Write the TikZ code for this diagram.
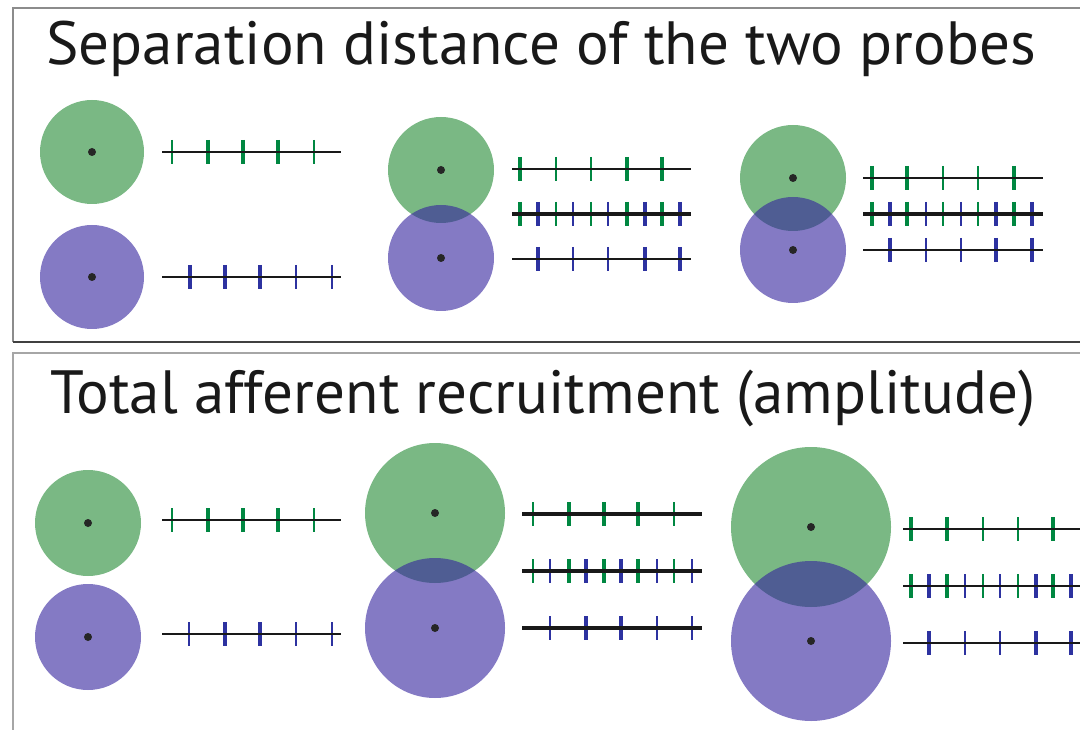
\documentclass[tikz,border=0pt]{standalone}
\usepackage{fontspec}
\setmainfont{PT Sans}
\definecolor{gbase}{RGB}{33,137,50}
\definecolor{pbase}{RGB}{50,33,157}
\definecolor{gtk}{RGB}{0,135,65}
\definecolor{btk}{RGB}{45,50,160}
\newcommand\tkrow[4]{\foreach \xx in {#4} {\draw[#1,line width=#2] (\xx,#3-12) -- (\xx,#3+12);}}
\tikzset{
  titletext/.style={anchor=base west,inner sep=0pt,font=\fontsize{45.8}{55}\selectfont,text=black!90},
  gcirc/.style={fill=gbase,fill opacity=0.6},
  pcirc/.style={fill=pbase,fill opacity=0.6},
  dotc/.style={fill=black!85},
  baseline/.style={draw=black!90,line cap=butt},
}
\begin{document}
\begin{tikzpicture}[x=0.75pt,y=-0.75pt]
\useasboundingbox (0,0) rectangle (1080,730);
% frames
\draw[black!45,line width=1.5pt] (1095,8) -- (13,8) -- (13,342);
\draw[black!75,line width=1.5pt] (13,342) -- (1095,342);
\draw[black!35,line width=1.5pt] (1095,353) -- (13,353) -- (13,745);
% titles
\node[titletext] (t1) at (46,65) {Separation distance of the two probes};
\node[titletext] (t2) at (50,413) {Total afferent recruitment (amplitude)};

% ---------- top group 1
\fill[gcirc] (92,152) circle[radius=39pt];
\fill[pcirc] (92,277) circle[radius=39pt];
\fill[dotc] (92,152) circle[radius=3pt];
\fill[dotc] (92,277) circle[radius=3pt];
\tkrow{gtk}{1.5pt}{152}{172,314}
\tkrow{gtk}{3.5pt}{152}{208,243,278}
\draw[baseline,line width=1.5pt] (162,152) -- (341,152);
\tkrow{btk}{3.5pt}{277}{190,225,260}
\tkrow{btk}{1.5pt}{277}{296,332}
\draw[baseline,line width=1.5pt] (162,277) -- (341,277);

% ---------- top group 2
\fill[gcirc] (441,170) circle[radius=39.75pt];
\fill[pcirc] (441,258) circle[radius=39.75pt];
\fill[dotc] (441,170) circle[radius=3pt];
\fill[dotc] (441,258) circle[radius=3pt];
\tkrow{gtk}{3.5pt}{169}{520,627,662}
\tkrow{gtk}{1.5pt}{169}{556,591}
\draw[baseline,line width=1.5pt] (512,169) -- (691,169);
\tkrow{gtk}{3.5pt}{214}{520,627,662}
\tkrow{gtk}{1.5pt}{214}{556,591}
\tkrow{btk}{3.5pt}{214}{538,645,680}
\tkrow{btk}{1.5pt}{214}{573,608}
\draw[baseline,line width=3pt] (512,214) -- (691,214);
\tkrow{btk}{3.5pt}{259}{538,645,680}
\tkrow{btk}{1.5pt}{259}{573,608}
\draw[baseline,line width=1.5pt] (512,259) -- (691,259);

% ---------- top group 3
\fill[gcirc] (793,178) circle[radius=39.75pt];
\fill[pcirc] (793,250) circle[radius=39.75pt];
\fill[dotc] (793,178) circle[radius=3pt];
\fill[dotc] (793,250) circle[radius=3pt];
\tkrow{gtk}{3.5pt}{178}{872,907,1014}
\tkrow{gtk}{1.5pt}{178}{943,978}
\draw[baseline,line width=1.5pt] (863,178) -- (1043,178);
\tkrow{gtk}{3.5pt}{214}{872,907,1014}
\tkrow{gtk}{1.5pt}{214}{943,978}
\tkrow{btk}{3.5pt}{214}{890,996,1032}
\tkrow{btk}{1.5pt}{214}{926,961}
\draw[baseline,line width=3pt] (863,214) -- (1043,214);
\tkrow{btk}{3.5pt}{250}{890,996,1032}
\tkrow{btk}{1.5pt}{250}{926,961}
\draw[baseline,line width=1.5pt] (863,250) -- (1043,250);

% ---------- bottom group 1
\fill[gcirc] (88,523) circle[radius=39.75pt];
\fill[pcirc] (88,637) circle[radius=39.75pt];
\fill[dotc] (88,523) circle[radius=3pt];
\fill[dotc] (88,637) circle[radius=3pt];
\tkrow{gtk}{1.5pt}{520}{172,314}
\tkrow{gtk}{3.5pt}{520}{208,243,278}
\draw[baseline,line width=1.5pt] (162,520) -- (341,520);
\tkrow{btk}{1.5pt}{634}{189,296,332}
\tkrow{btk}{3.5pt}{634}{225,260}
\draw[baseline,line width=1.5pt] (162,634) -- (341,634);

% ---------- bottom group 2
\fill[gcirc] (435,513) circle[radius=52.5pt];
\fill[pcirc] (435,628) circle[radius=52.5pt];
\fill[dotc] (435,513) circle[radius=3pt];
\fill[dotc] (435,628) circle[radius=3pt];
\tkrow{gtk}{1.5pt}{514}{533,674}
\tkrow{gtk}{3.5pt}{514}{569,604,638}
\draw[baseline,line width=2.6pt] (522,514) -- (702,514);
\tkrow{gtk}{1.5pt}{571}{533,674}
\tkrow{gtk}{3.5pt}{571}{569,604,638}
\tkrow{btk}{1.5pt}{571}{550,657,692}
\tkrow{btk}{3.5pt}{571}{586,621}
\draw[baseline,line width=2.6pt] (522,571) -- (702,571);
\tkrow{btk}{1.5pt}{628}{550,657,692}
\tkrow{btk}{3.5pt}{628}{586,621}
\draw[baseline,line width=2.6pt] (522,628) -- (702,628);

% ---------- bottom group 3
\fill[gcirc] (811,527) circle[radius=60pt];
\fill[pcirc] (811,641) circle[radius=60pt];
\fill[dotc] (811,527) circle[radius=3pt];
\fill[dotc] (811,641) circle[radius=3pt];
\tkrow{gtk}{3.5pt}{529}{911,947,1053}
\tkrow{gtk}{1.5pt}{529}{983,1018}
\draw[baseline,line width=1.8pt] (903,529) -- (1085,529);
\tkrow{gtk}{3.5pt}{586}{911,947,1053}
\tkrow{gtk}{1.5pt}{586}{983,1018}
\tkrow{btk}{3.5pt}{586}{929,1036,1071}
\tkrow{btk}{1.5pt}{586}{965,1000}
\draw[baseline,line width=1.8pt] (903,586) -- (1085,586);
\tkrow{btk}{3.5pt}{643}{929,1036,1071}
\tkrow{btk}{1.5pt}{643}{965,1000}
\draw[baseline,line width=1.8pt] (903,643) -- (1085,643);
\end{tikzpicture}
\end{document}
